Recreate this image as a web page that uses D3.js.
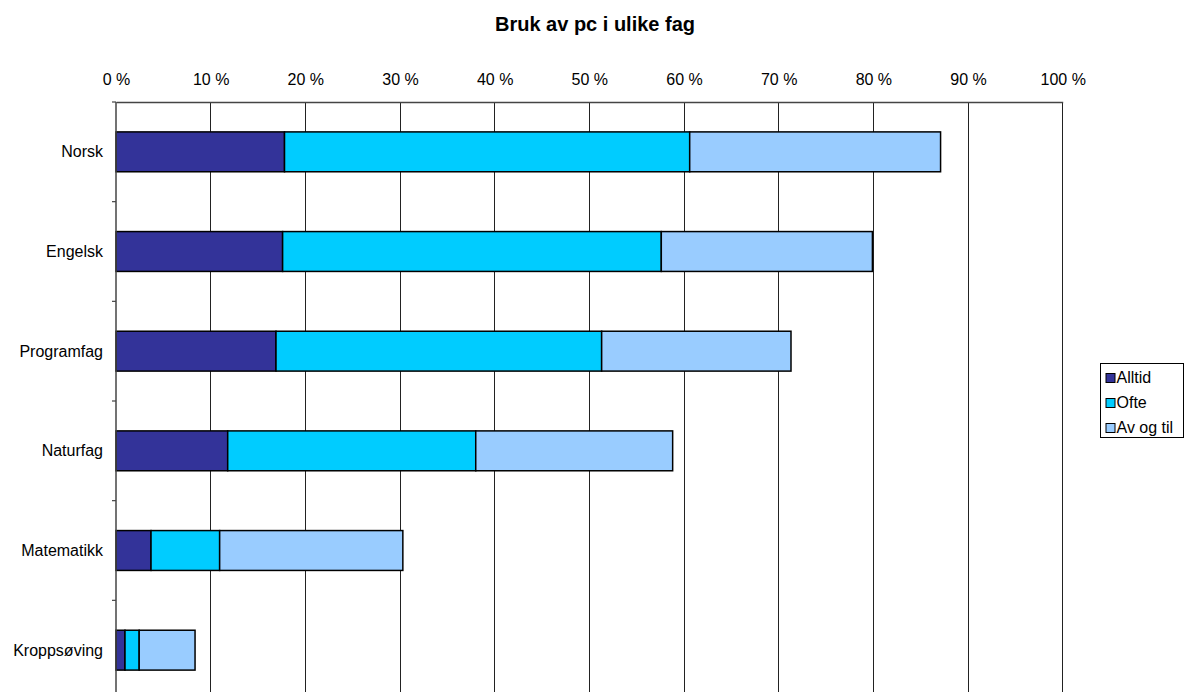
<!DOCTYPE html>
<html><head><meta charset="utf-8">
<script src="https://cdn.jsdelivr.net/npm/d3@7"></script>
<style>body{margin:0;background:#fff}svg{display:block;font-family:"Liberation Sans",Arial,sans-serif}</style>
</head><body><svg id="c" width="1192" height="692"></svg>
<script>
const categories = ["Norsk","Engelsk","Programfag","Naturfag","Matematikk","Kroppsøving"];
const seriesNames = ["Alltid","Ofte","Av og til"];
const alltid  = [17.8, 17.6, 16.9, 11.8, 3.7, 0.95];
const ofte    = [42.8, 40.0, 34.4, 26.2, 7.25, 1.5];
const avOgTil = [26.5, 22.3, 20.0, 20.8, 19.35, 5.9];
const tickValues = [0,10,20,30,40,50,60,70,80,90,100];
const colors = ["#333399","#00CCFF","#99CCFF"];

(function(){
const svg = d3.select("#c");
const pL = 116, pR = 1062.7, pT = 102, pB = 700;

const x = d3.scaleLinear().domain([0,100]).range([pL,pR]);
const y = d3.scaleBand().domain(categories).range([pT,pB]).paddingInner(0.6).paddingOuter(0.3);
const yb = d3.scaleBand().domain(categories).range([pT,pB]);

// title
svg.append("text").attr("x",595).attr("y",31).attr("text-anchor","middle")
  .attr("font-size","20px").attr("font-weight","bold").text("Bruk av pc i ulike fag");

// gridlines
svg.append("g").selectAll("line").data(tickValues.slice(1)).join("line")
  .attr("x1",d=>x(d)).attr("x2",d=>x(d)).attr("y1",pT).attr("y2",pB)
  .attr("stroke","#222").attr("stroke-width",1).attr("shape-rendering","crispEdges");

// top axis
const xAxis = d3.axisTop(x).tickValues(tickValues).tickSize(0).tickPadding(17).tickFormat(d=>d+" %");
const gx = svg.append("g").attr("transform",`translate(0,${pT})`).call(xAxis);
gx.select(".domain").attr("stroke","#444").attr("stroke-width",1.5);
gx.selectAll("text").attr("font-size","16px").attr("fill","#000").attr("font-family","Liberation Sans, Arial, sans-serif");

// stacked bars
const data = categories.map((c,i)=>({cat:c, Alltid:alltid[i], Ofte:ofte[i], "Av og til":avOgTil[i]}));
const stack = d3.stack().keys(seriesNames)(data);
svg.append("g").selectAll("g").data(stack).join("g").attr("fill",(d,i)=>colors[i])
  .selectAll("rect").data(d=>d).join("rect")
  .attr("x",d=>x(d[0])).attr("width",d=>x(d[1])-x(d[0]))
  .attr("y",d=>y(d.data.cat)).attr("height",y.bandwidth())
  .attr("stroke","#000").attr("stroke-width",1.5);

// left axis
const gy = svg.append("g").attr("transform",`translate(${pL},0)`);
gy.append("line").attr("x1",0).attr("x2",0).attr("y1",pT).attr("y2",pB).attr("stroke","#444").attr("stroke-width",1.5);
gy.selectAll("line.tk").data(categories).join("line").attr("class","tk")
  .attr("x1",-4).attr("x2",0).attr("y1",d=>yb(d)).attr("y2",d=>yb(d)).attr("stroke","#444").attr("stroke-width",1.2);
gy.selectAll("text").data(categories).join("text")
  .attr("x",-13).attr("y",d=>yb(d)+yb.bandwidth()/2).attr("dy","0.35em")
  .attr("text-anchor","end").attr("font-size","16px").text(d=>d);

// legend
const lg = svg.append("g").attr("transform","translate(1100.5,363.5)");
lg.append("rect").attr("width",83).attr("height",74).attr("fill","#fff").attr("stroke","#000").attr("stroke-width",1);
const items = lg.selectAll("g").data(seriesNames).join("g").attr("transform",(d,i)=>`translate(5,${19+i*25})`);
items.append("rect").attr("x",0.5).attr("y",-9).attr("width",9).attr("height",9).attr("fill",(d,i)=>colors[i]).attr("stroke","#000").attr("stroke-width",1);
items.append("text").attr("x",11).attr("y",0).attr("font-size","16px").text(d=>d);
})();
</script></body></html>
